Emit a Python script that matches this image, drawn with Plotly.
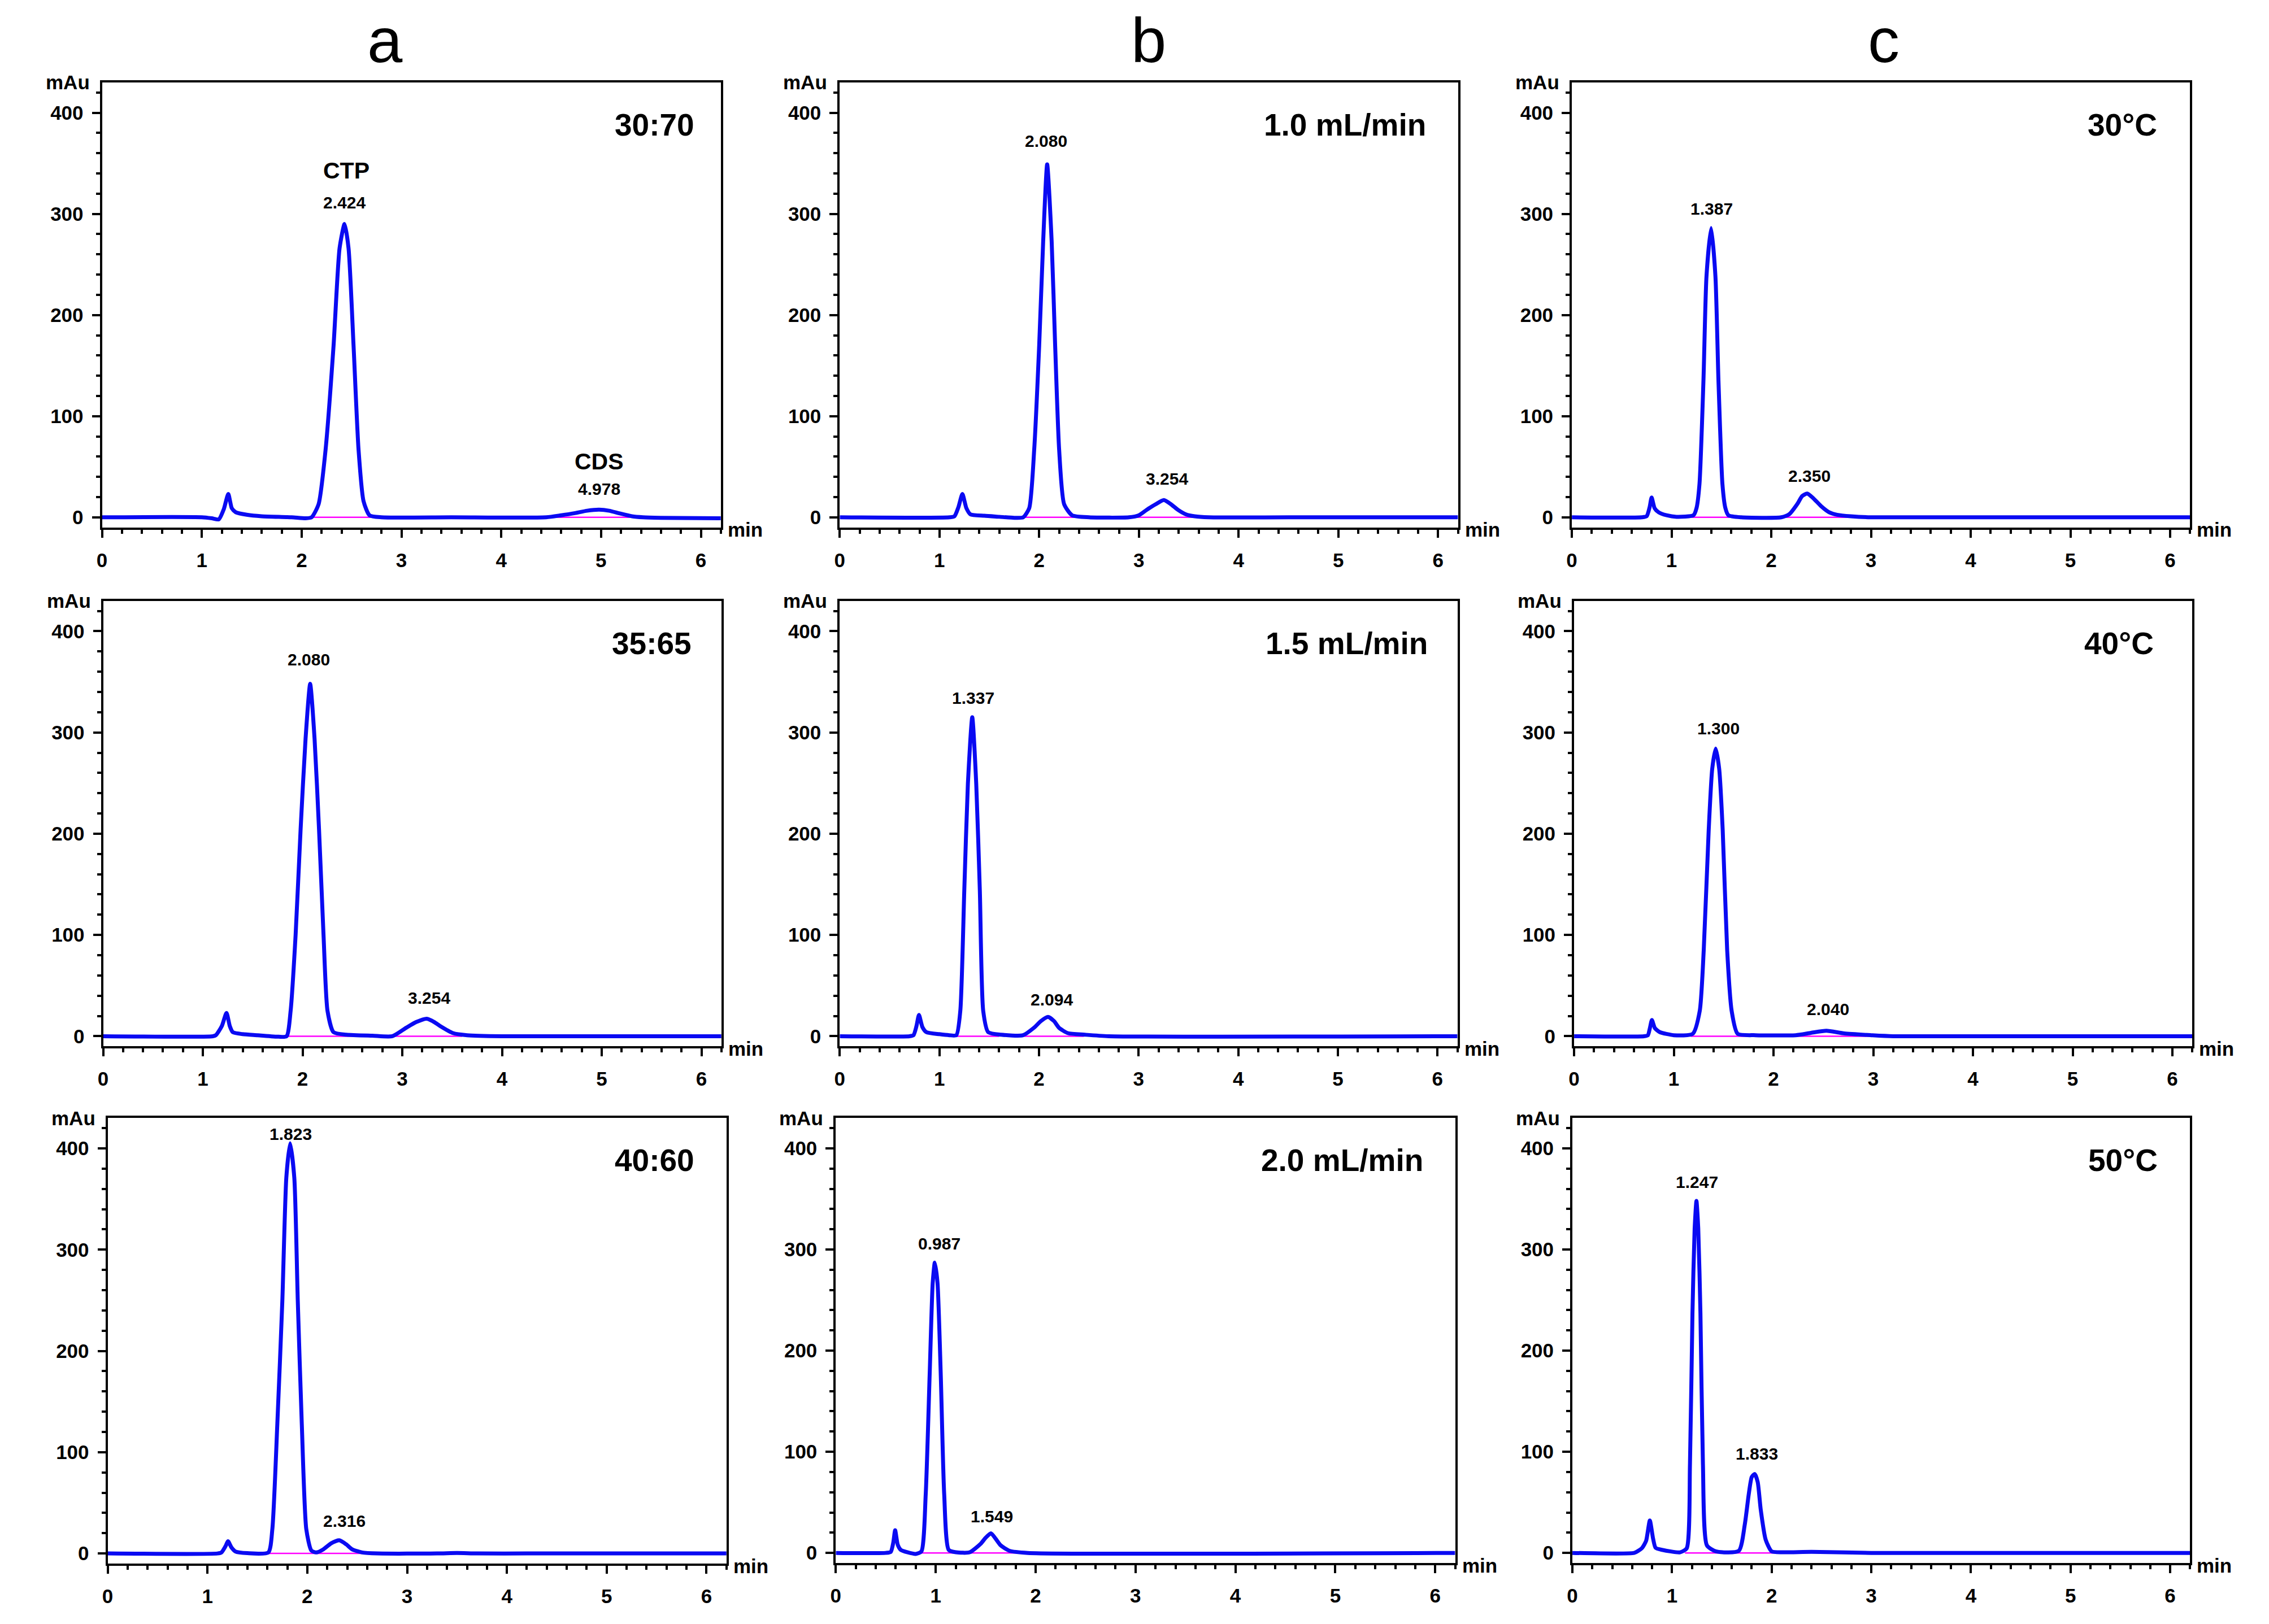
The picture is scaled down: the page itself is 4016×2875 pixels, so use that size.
import plotly.graph_objects as go

# ---------------- data ----------------
# Retention time (min) and absorbance (mAu) sample points for each chromatogram
a1_t = [0, 1.0, 1.1, 1.17, 1.22, 1.265, 1.30, 1.34, 1.45, 1.6, 1.9, 2.04, 2.10, 2.17, 2.24, 2.32, 2.38, 2.43,
        2.47, 2.52, 2.57, 2.62, 2.68, 2.8, 3.5, 4.45, 4.6, 4.73, 4.86, 4.98, 5.08, 5.18, 5.31, 5.42, 5.6, 6.2]
a1_y = [0, 0, -1, -2, 8, 23, 9, 5, 2.5, 1, 0, -1, 0, 13, 67, 170, 266, 290,
        266, 170, 67, 16, 2, 0, 0, 0, 2, 4, 6.5, 7.5, 6.5, 4, 1, 0, -0.5, -1]

b1_t = [0, 1.1, 1.15, 1.19, 1.23, 1.27, 1.31, 1.45, 1.6, 1.75, 1.84, 1.90, 1.95, 2.0, 2.04, 2.08, 2.125,
        2.16, 2.20, 2.25, 2.33, 2.5, 2.9, 3.0, 3.08, 3.17, 3.25, 3.32, 3.39, 3.47, 3.56, 3.7, 4.5, 6.2]
b1_y = [0, 0, 1, 10, 23, 9, 3, 1.5, 0.5, -0.5, 0, 9, 67, 170, 273, 349, 273,
        170, 67, 13, 2, 0, 0, 2, 7.5, 13, 17, 13, 7.5, 3, 1, 0, 0, 0]

c1_t = [0, 0.7, 0.75, 0.78, 0.80, 0.83, 0.87, 0.95, 1.05, 1.22, 1.25, 1.28, 1.32, 1.35, 1.397, 1.44, 1.47,
        1.51, 1.54, 1.57, 1.7, 2.1, 2.18, 2.26, 2.31, 2.36, 2.42, 2.50, 2.58, 2.66, 2.8, 3.0, 6.2]
c1_y = [0, 0, 1, 10, 19.5, 9, 5, 2, 0.5, 2, 9, 33, 136, 238, 286, 238, 136,
        33, 9, 2, 0, 0, 3, 13, 21, 23.5, 19, 11, 5, 2.5, 1, 0, 0]

a2_t = [0, 1.1, 1.13, 1.19, 1.237, 1.27, 1.30, 1.40, 1.55, 1.76, 1.84, 1.88, 1.93, 1.98, 2.03, 2.076, 2.12,
        2.165, 2.21, 2.25, 2.31, 2.44, 2.7, 2.9, 3.04, 3.14, 3.245, 3.32, 3.38, 3.51, 3.65, 4.0, 6.2]
a2_y = [0, 0, 1, 10, 23, 10, 4, 2, 1, -0.5, 0, 25, 100, 204, 294, 348, 294,
        204, 100, 25, 4, 1.5, 0.5, 0, 8.4, 14, 17.3, 14, 10, 3, 1, 0, 0]

b2_t = [0, 0.7, 0.74, 0.77, 0.795, 0.83, 0.87, 1.0, 1.10, 1.17, 1.21, 1.25, 1.286, 1.33, 1.37, 1.406, 1.44,
        1.49, 1.62, 1.84, 1.95, 2.02, 2.09, 2.15, 2.20, 2.29, 2.46, 2.7, 6.2]
b2_y = [0, 0, 1, 10, 21, 9, 4, 2, 1, 1, 25, 144, 249, 315, 249, 144, 25,
        4, 1.5, 1, 8.4, 15, 19, 15, 8.4, 3, 1.5, 0, 0]

c2_t = [0, 0.7, 0.74, 0.76, 0.78, 0.81, 0.86, 1.0, 1.19, 1.26, 1.30, 1.35, 1.385, 1.42, 1.455, 1.49, 1.535,
        1.58, 1.64, 1.82, 2.22, 2.375, 2.53, 2.71, 2.98, 3.2, 6.2]
c2_y = [0, 0, 1, 8, 16, 8, 4, 1, 2.4, 25, 85, 204, 264, 284, 264, 204, 85,
        25, 2.4, 1, 1, 3.3, 5.4, 2.7, 1, 0, 0]

a3_t = [0, 1.1, 1.14, 1.18, 1.206, 1.24, 1.28, 1.40, 1.61, 1.65, 1.70, 1.75, 1.79, 1.828, 1.87, 1.905, 1.945,
        1.99, 2.04, 2.09, 2.16, 2.24, 2.32, 2.39, 2.45, 2.55, 2.7, 3.3, 3.5, 3.7, 4.2, 6.2]
a3_y = [0, 0, 1, 7, 12, 6, 2, 0.3, 1, 24, 128, 249, 371, 405, 371, 249, 128,
        24, 3, 1, 4, 10, 13, 9, 4, 1, 0, 0, 0.5, 0, 0, 0]

b3_t = [0, 0.5, 0.55, 0.575, 0.594, 0.62, 0.65, 0.72, 0.80, 0.857, 0.90, 0.94, 0.97, 0.991, 1.018, 1.05,
        1.085, 1.13, 1.205, 1.34, 1.45, 1.50, 1.553, 1.60, 1.65, 1.74, 1.92, 6.2]
b3_y = [0, 0, 1, 10, 22.4, 8, 3, 0.5, -1, 1.5, 58, 178, 267, 287, 267, 178,
        58, 3, 0.6, 0.6, 9, 15, 19.4, 14, 7.5, 2, 0, 0]

c3_t = [0, 0.62, 0.66, 0.70, 0.74, 0.777, 0.81, 0.835, 0.90, 1.08, 1.147, 1.18, 1.205, 1.227, 1.245, 1.263,
        1.285, 1.31, 1.35, 1.44, 1.67, 1.73, 1.77, 1.80, 1.83, 1.86, 1.89, 1.94, 2.00, 2.11, 2.4, 3.0, 6.2]
c3_y = [0, 0, 2, 5, 12, 32, 14, 5, 3, 0.6, 4.5, 88, 237, 321, 348, 321,
        237, 88, 7.5, 1.5, 2, 28, 58, 75, 78, 70, 43, 13, 1.5, 0.6, 1, 0, 0]

# integration baselines (start, end in min) drawn in magenta
a1_base = [[2.10, 2.75], [4.45, 5.45]]
b1_base = [[1.84, 2.45], [2.95, 3.70]]
c1_base = [[1.20, 1.62], [2.10, 3.00]]
a2_base = [[1.82, 2.75], [2.90, 3.60]]
b2_base = [[1.14, 1.60], [1.85, 2.45]]
c2_base = [[1.17, 1.75], [2.20, 3.00]]
a3_base = [[1.60, 2.55]]
b3_base = [[0.84, 1.20], [1.33, 1.90]]
c3_base = [[1.13, 2.05]]

# peak labels: text, x (min), y (mAu), font size
a1_lab = [["CTP", 2.45, 343, 41], ["2.424", 2.43, 311, 30], ["CDS", 4.98, 55, 41], ["4.978", 4.98, 28, 30]]
b1_lab = [["2.080", 2.07, 372, 30], ["3.254", 3.28, 38, 30]]
c1_lab = [["1.387", 1.40, 305, 30], ["2.350", 2.38, 41, 30]]
a2_lab = [["2.080", 2.06, 372, 30], ["3.254", 3.27, 38, 30]]
b2_lab = [["1.337", 1.34, 334, 30], ["2.094", 2.13, 36, 30]]
c2_lab = [["1.300", 1.446, 304, 30], ["2.040", 2.545, 27, 30]]
a3_lab = [["1.823", 1.833, 414, 30], ["2.316", 2.37, 32, 30]]
b3_lab = [["0.987", 1.036, 306, 30], ["1.549", 1.5625, 36, 30]]
c3_lab = [["1.247", 1.25, 367, 30], ["1.833", 1.853, 98, 30]]

conditions = ["30:70", "1.0 mL/min", "30°C",
              "35:65", "1.5 mL/min", "40°C",
              "40:60", "2.0 mL/min", "50°C"]
column_titles = ["a", "b", "c"]
x_ticks = [0, 1, 2, 3, 4, 5, 6]
y_ticks = [0, 100, 200, 300, 400]

# ---------------- layout geometry (pixels) ----------------
W, H = 4016, 2875
boxes = [  # left, right, top, bottom
    (171, 1269, 146, 934), (1480, 2577, 146, 934), (2779, 3876, 146, 934),
    (173, 1270, 1064, 1853), (1480, 2576, 1064, 1853), (2783, 3880, 1064, 1853),
    (181, 1279, 1980, 2769), (1473, 2572, 1980, 2768), (2780, 3876, 1980, 2768),
]
cond_offset = [45, 55, 56, 51, 51, 67, 55, 55, 55]
title_x = [673, 2028, 3332]

panels = [
    (a1_t, a1_y, a1_base, a1_lab), (b1_t, b1_y, b1_base, b1_lab), (c1_t, c1_y, c1_base, c1_lab),
    (a2_t, a2_y, a2_base, a2_lab), (b2_t, b2_y, b2_base, b2_lab), (c2_t, c2_y, c2_base, c2_lab),
    (a3_t, a3_y, a3_base, a3_lab), (b3_t, b3_y, b3_base, b3_lab), (c3_t, c3_y, c3_base, c3_lab),
]

FONT = "Liberation Sans, Arial, Helvetica, sans-serif"
BLUE = "#0A0AF2"
MAGENTA = "#FF00FF"

fig = go.Figure()
layout = dict(width=W, height=H, margin=dict(l=0, r=0, t=0, b=0), autosize=False,
              paper_bgcolor="white", plot_bgcolor="white", showlegend=False, hovermode=False)
annotations = []

for i, ((t, y, base, labs), (L, R, T, B)) in enumerate(zip(panels, boxes)):
    n = "" if i == 0 else str(i + 1)
    xa, ya = "x" + n, "y" + n
    for s, e in base:
        fig.add_trace(go.Scatter(x=[s, e], y=[0, 0], mode="lines", xaxis=xa, yaxis=ya,
                                 line=dict(color=MAGENTA, width=2.5)))
    fig.add_trace(go.Scatter(x=t, y=y, mode="lines", xaxis=xa, yaxis=ya,
                             line=dict(color=BLUE, width=7, shape="spline", smoothing=0.6)))
    common = dict(showline=True, linecolor="black", linewidth=4, mirror=True,
                  ticks="outside", tickcolor="black", tickwidth=4, ticklen=14,
                  showgrid=False, zeroline=False, fixedrange=True,
                  tickfont=dict(family=FONT, size=35, color="black", weight="bold"))
    layout["xaxis" + n] = dict(common, domain=[L / W, R / W], anchor=ya, range=[0, 6.2],
                               tickvals=x_ticks, ticklabelstandoff=10,
                               minor=dict(dtick=0.2, tick0=0, ticklen=7, tickwidth=3.5,
                                          tickcolor="black", ticks="outside", showgrid=False))
    layout["yaxis" + n] = dict(common, domain=[1 - B / H, 1 - T / H], anchor=xa, range=[-10, 430],
                               tickvals=y_ticks, ticklabelstandoff=8,
                               minor=dict(dtick=20, tick0=0, ticklen=7, tickwidth=3.5,
                                          tickcolor="black", ticks="outside", showgrid=False))
    # condition label
    annotations.append(dict(text=conditions[i], xref="paper", yref="paper",
                            x=(R - cond_offset[i]) / W, y=1 - (T + 75) / H,
                            xanchor="right", yanchor="middle", showarrow=False,
                            font=dict(family=FONT, size=55, color="black", weight="bold")))
    # axis units
    annotations.append(dict(text="mAu", xref="paper", yref="paper", x=(L - 20) / W, y=1 - T / H,
                            xanchor="right", yanchor="middle", showarrow=False,
                            font=dict(family=FONT, size=35, color="black", weight="bold")))
    annotations.append(dict(text="min", xref="paper", yref="paper", x=(R + 10) / W, y=1 - (B + 4) / H,
                            xanchor="left", yanchor="middle", showarrow=False,
                            font=dict(family=FONT, size=35, color="black", weight="bold")))
    # peak labels
    for txt, lx, ly, fs in labs:
        annotations.append(dict(text=txt, xref=xa, yref=ya, x=lx, y=ly, xanchor="center",
                                yanchor="middle", showarrow=False,
                                font=dict(family=FONT, size=fs, color="black", weight="bold")))

for j, ttl in enumerate(column_titles):
    annotations.append(dict(text=ttl, xref="paper", yref="paper", x=title_x[j] / W, y=1 - 72 / H,
                            xanchor="center", yanchor="middle", showarrow=False,
                            font=dict(family=FONT, size=112, color="black")))

layout["annotations"] = annotations
fig.update_layout(**layout)
fig.write_html("out.html")
